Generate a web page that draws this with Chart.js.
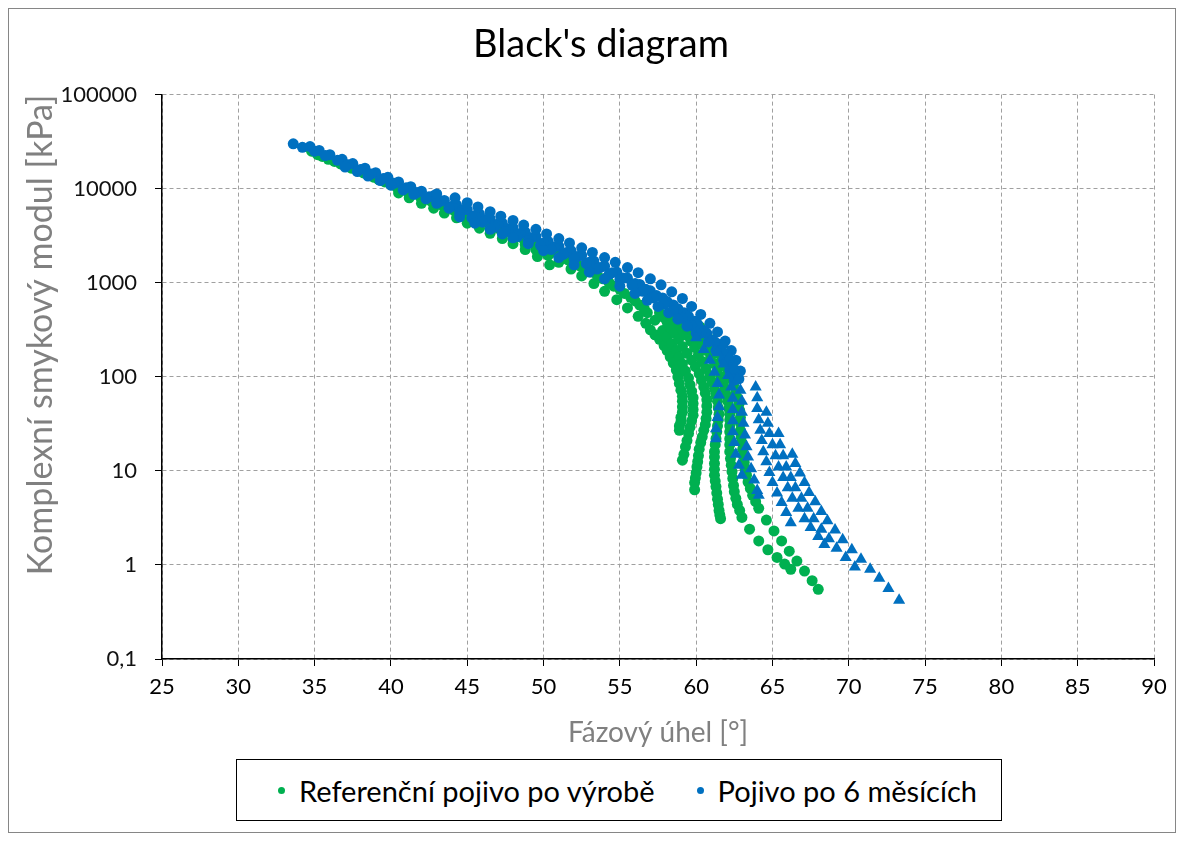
<!DOCTYPE html>
<html>
<head>
<meta charset="utf-8">
<title>Black's diagram</title>
<script src="https://cdn.jsdelivr.net/npm/chart.js@4.4.1/dist/chart.umd.min.js"></script>
<style>
  html, body { margin: 0; padding: 0; background: #fff; }
  #wrap { position: relative; width: 1184px; height: 841px; }
  #legend {
    position: absolute; left: 236px; top: 759px; width: 766px; height: 62px;
    box-sizing: border-box; border: 1px solid #000; background: #fff;
    display: flex; align-items: center; padding-left: 41px;
    font-family: Lato, sans-serif; font-size: 29px; color: #000; white-space: nowrap;
  }
  .item { display: flex; align-items: center; margin-right: 42px; }
  .dot { width: 7px; height: 7px; border-radius: 50%; margin-right: 14px; flex: none; }
</style>
</head>
<body>
<div id="wrap">
  <canvas id="myChart" width="1184" height="841"></canvas>
  <div id="legend"></div>
</div>
<script>
// axis ticks
const xTicks = [25, 30, 35, 40, 45, 50, 55, 60, 65, 70, 75, 80, 85, 90];
const yTicks = [0.1, 1, 10, 100, 1000, 10000, 100000];
const yTickLabels = ["0,1", "1", "10", "100", "1000", "10000", "100000"];

// Referenční pojivo po výrobě: [fázový úhel, |G*| kPa]
const refPoints = [
  // upper band
  [34.8, 25000], [35.5, 22000], [36.3, 19500], [37.0, 17500], [37.8, 15500], [38.5, 14000],
  [39.2, 12500], [40.0, 11000], [40.8, 9800], [41.5, 8800], [42.3, 7900], [43.0, 7100],
  [43.8, 6300], [44.5, 5700], [45.3, 5000], [46.0, 4500], [46.8, 4000], [47.5, 3600],
  [48.3, 3200], [49.0, 2850], [49.8, 2500], [50.5, 2200], [51.3, 1900], [52.0, 1650],
  [52.8, 1400], [53.5, 1200], [54.3, 1000], [55.0, 850], [55.7, 700], [56.3, 580],
  [56.8, 480], [57.3, 400],
  [35.2, 23000], [35.9, 20500], [36.7, 18300], [37.4, 16500], [38.2, 14700], [38.9, 13200],
  [39.6, 11800], [40.4, 10300], [41.1, 9200], [41.9, 8300], [42.6, 7400], [43.4, 6600],
  [44.1, 5900], [44.9, 5300], [45.6, 4700], [46.4, 4200], [47.1, 3750], [47.9, 3350],
  [48.6, 3000], [49.4, 2650], [50.1, 2350], [50.9, 2050], [51.6, 1750], [52.4, 1500],
  [53.1, 1300], [53.9, 1100], [54.6, 920], [55.3, 770], [56.0, 640], [56.6, 530],
  // second row
  [40.5, 9000], [41.2, 8000], [42.0, 7000], [42.8, 6200], [43.5, 5500], [44.3, 4900],
  [45.0, 4300], [45.8, 3800], [46.5, 3350], [47.3, 2950], [48.0, 2600], [48.8, 2250],
  [49.6, 1900], [50.4, 1550],
  // third row
  [48.0, 2900], [48.8, 2550], [49.5, 2250], [50.3, 1950], [51.0, 1650], [51.8, 1400],
  [52.5, 1180], [53.3, 980], [54.0, 810], [54.8, 660], [55.5, 540], [56.2, 440], [56.7, 370],
  // tails
  [57.0, 316], [57.3, 280], [57.6, 250], [57.9, 215], [58.1, 190], [58.3, 163], [58.5, 140],
  [58.7, 118], [58.8, 100], [58.9, 85], [59.0, 72], [59.1, 62], [59.1, 55], [59.1, 48],
  [59.1, 42], [59.0, 37], [59.0, 33], [58.9, 30], [58.9, 27],
  [57.8, 310], [58.1, 265], [58.4, 225], [58.7, 190], [58.9, 162], [59.1, 137], [59.3, 115],
  [59.5, 97], [59.6, 82], [59.7, 70], [59.8, 60], [59.8, 52], [59.8, 45], [59.8, 39],
  [59.7, 34], [59.6, 29], [59.5, 25], [59.4, 21], [59.3, 18], [59.2, 15], [59.1, 13],
  [57.6, 480], [57.85, 430], [58.1, 380], [58.35, 330], [58.6, 290], [58.85, 250], [59.1, 210],
  [59.4, 178], [59.7, 150], [59.95, 128], [60.2, 108], [60.35, 92], [60.5, 78], [60.6, 67],
  [60.7, 57], [60.7, 49], [60.7, 42], [60.65, 36], [60.6, 31], [60.5, 27], [60.4, 23],
  [60.3, 20], [60.2, 17], [60.15, 14.5], [60.1, 12.5], [60.05, 11], [60.0, 9.5], [59.95, 8.4],
  [59.9, 7.5], [59.9, 6.3],
  [58.4, 440], [58.65, 395], [58.9, 350], [59.15, 310], [59.4, 275], [59.65, 240], [59.9, 205],
  [60.15, 172], [60.4, 145], [60.65, 122], [60.9, 103], [61.05, 88], [61.2, 75], [61.3, 64],
  [61.4, 55], [61.45, 47], [61.5, 40], [61.45, 35], [61.4, 30], [61.35, 26], [61.3, 22],
  [61.25, 19], [61.2, 16], [61.2, 14], [61.2, 12], [61.2, 10.4], [61.2, 9], [61.25, 7.8],
  [61.3, 6.8], [61.35, 5.8], [61.4, 5], [61.45, 4.4], [61.5, 3.8], [61.55, 3.4], [61.6, 3.1],
  [59.2, 410], [59.45, 360], [59.7, 320], [59.95, 285], [60.2, 250], [60.45, 218], [60.7, 190],
  [60.95, 162], [61.2, 138], [61.4, 118], [61.6, 100], [61.75, 86], [61.9, 74], [62.0, 63],
  [62.1, 54], [62.15, 46], [62.2, 40], [62.2, 35], [62.2, 30], [62.2, 26], [62.2, 22],
  [62.2, 19], [62.2, 16], [62.25, 13.5], [62.3, 11.5], [62.35, 9.8], [62.4, 8.3], [62.45, 7.0],
  [62.5, 6.0], [62.6, 5.1], [62.7, 4.4], [62.85, 3.8], [63.0, 3.2], [63.5, 2.4], [64.1, 1.8],
  [64.7, 1.45], [65.3, 1.2], [65.8, 1.02], [66.2, 0.9],
  [60.0, 380], [60.25, 340], [60.5, 300], [60.75, 265], [61.0, 230], [61.25, 200], [61.5, 175],
  [61.7, 152], [61.9, 130], [62.1, 112], [62.3, 95], [62.45, 82], [62.6, 70], [62.7, 60],
  [62.8, 51], [62.85, 44], [62.9, 37], [62.9, 32], [62.9, 27], [62.95, 23], [63.0, 20],
  [63.05, 17], [63.1, 14.5], [63.15, 12.3], [63.2, 10.5], [63.3, 9], [63.4, 7.6], [63.55, 6.5],
  [63.7, 5.5], [63.9, 4.7], [64.1, 4.0], [64.6, 3.0], [65.1, 2.3], [65.6, 1.8], [66.1, 1.4],
  [66.6, 1.1], [67.1, 0.86], [67.6, 0.68], [68.0, 0.55]
];

// Pojivo po 6 měsících, kruhy
const agedPoints = [
  // top row
  [33.6, 30000], [34.7, 28000], [35.3, 25500], [36.0, 23000], [36.8, 20500], [37.5, 18500],
  [38.3, 16500], [39.0, 14800], [39.8, 13200], [40.5, 11800], [41.3, 10500], [42.0, 9400],
  [42.8, 8400], [43.5, 7500], [44.3, 6700], [45.0, 6000], [45.8, 5400], [46.5, 4800],
  [47.3, 4300], [48.0, 3850], [48.8, 3450], [49.5, 3100], [50.3, 2750], [51.0, 2450],
  [51.8, 2200], [52.5, 1950], [53.3, 1700], [54.0, 1500], [54.8, 1300], [55.5, 1120],
  [56.3, 960], [57.0, 820], [57.8, 690], [58.5, 580], [59.2, 480], [59.9, 390], [60.5, 310],
  [61.1, 245], [61.6, 190], [62.1, 150], [62.5, 120], [62.8, 95],
  [34.2, 27500], [35.0, 25000], [35.7, 22500], [36.5, 20000], [37.2, 18000], [38.0, 16000],
  [38.7, 14300], [39.5, 12800], [40.2, 11400], [41.0, 10200], [41.7, 9100], [42.5, 8200],
  [43.2, 7300], [44.0, 6500], [44.7, 5900], [45.5, 5200], [46.2, 4700], [47.0, 4200],
  [47.7, 3750], [48.5, 3350], [49.2, 3000], [50.0, 2650], [50.7, 2400], [51.5, 2100],
  [52.2, 1900], [53.0, 1650], [53.7, 1450], [54.5, 1280], [55.2, 1120], [56.0, 980],
  [56.7, 850], [57.4, 730], [58.1, 630], [58.8, 530], [59.5, 440], [60.1, 360], [60.7, 290],
  [61.3, 230], [61.8, 180], [62.3, 140], [62.7, 105],
  // upper segments
  [43.0, 8800], [44.2, 8000], [45.0, 7100], [45.7, 6400], [46.5, 5700], [47.2, 5100],
  [48.0, 4600], [48.7, 4100], [49.5, 3700], [50.2, 3300], [51.0, 2950], [51.7, 2650],
  [52.5, 2350], [53.2, 2100], [54.0, 1850], [54.7, 1650], [55.5, 1450], [56.2, 1280],
  [57.0, 1100], [57.7, 950], [58.4, 800], [59.1, 680], [59.7, 560], [60.3, 460], [60.9, 370],
  [61.4, 300], [61.9, 240], [62.3, 190], [62.6, 150], [62.9, 115],
  // lower rows
  [37.0, 17000], [37.8, 15200], [38.5, 13600], [39.3, 12200], [40.0, 10900], [40.8, 9700],
  [41.5, 8700], [42.3, 7800], [43.0, 7000], [43.8, 6200], [44.5, 5500], [45.3, 4900],
  [46.0, 4400], [46.8, 3900], [47.5, 3500], [48.3, 3100], [49.0, 2800], [49.8, 2500],
  [50.5, 2250], [51.3, 2000], [52.0, 1800], [52.8, 1600], [53.5, 1400], [54.3, 1230],
  [55.0, 1080], [55.8, 940], [56.5, 810], [57.2, 690], [57.9, 590], [58.5, 500], [59.1, 420],
  [59.7, 350], [60.3, 290], [60.8, 235], [61.3, 190], [61.8, 150], [62.2, 118], [62.5, 92],
  [44.5, 5000], [45.5, 4300], [46.5, 3700], [47.3, 3300], [48.0, 3000], [49.0, 2600],
  [50.0, 2200], [51.0, 1850], [52.0, 1550], [53.0, 1300], [54.0, 1100], [55.0, 920],
  [56.0, 770], [56.8, 650], [57.5, 560], [58.2, 480], [58.8, 410], [59.4, 345], [60.0, 290]
];

// Pojivo po 6 měsících, trojúhelníky (nízké moduly)
const agedTriPoints = [
  [60.0, 260], [60.5, 195], [60.9, 150], [61.2, 112], [61.4, 85], [61.5, 64], [61.5, 48],
  [61.4, 37], [61.3, 28], [61.3, 22],
  [60.9, 240], [61.4, 180], [61.8, 137], [62.1, 103], [62.3, 78], [62.4, 59], [62.4, 45],
  [62.4, 34], [62.4, 26], [62.5, 20], [62.6, 15], [62.8, 11.5], [63.0, 9],
  [61.8, 220], [62.2, 165], [62.5, 125], [62.7, 95], [62.9, 72], [63.0, 55], [63.0, 42],
  [63.1, 32], [63.2, 24], [63.3, 18], [63.4, 14], [63.6, 10.5], [63.8, 8], [64.0, 6.2], [64.1, 5.5],
  [63.9, 78], [64.0, 60], [64.0, 46], [64.1, 35], [64.2, 27], [64.3, 21], [64.4, 16],
  [64.6, 12.5], [64.8, 9.6], [65.0, 7.5], [65.3, 5.8], [65.6, 4.6], [65.9, 3.6], [66.2, 2.8],
  [64.6, 42], [64.7, 32], [64.8, 25], [65.0, 19], [65.2, 14.5], [65.4, 11], [65.7, 8.5],
  [66.0, 6.6], [66.3, 5.1], [66.7, 4.0], [67.1, 3.1], [67.5, 2.5], [68.0, 2.0], [68.4, 1.65],
  [65.4, 25], [65.5, 19], [65.7, 14.5], [65.9, 11], [66.2, 8.5], [66.5, 6.6], [66.9, 5.1],
  [67.3, 4.0], [67.7, 3.1], [68.2, 2.4], [68.7, 1.9], [69.2, 1.5], [69.8, 1.2], [70.4, 0.95],
  [66.3, 15], [66.5, 12], [66.8, 9.5], [67.1, 7.5], [67.4, 5.9], [67.8, 4.7], [68.2, 3.7],
  [68.6, 2.95], [69.1, 2.35], [69.6, 1.85], [70.2, 1.45], [70.8, 1.15], [71.4, 0.9],
  [72.0, 0.72], [72.6, 0.56], [73.3, 0.42]
];

const GREEN = "#00b050";
const BLUE = "#0070c0";

const toXY = (pts) => pts.map(([x, y]) => ({ x: x, y: y }));

// outer frame of the chart
const framePlugin = {
  id: "frame",
  beforeDraw(chart) {
    const ctx = chart.ctx;
    ctx.save();
    ctx.fillStyle = "#fff";
    ctx.fillRect(0, 0, chart.width, chart.height);
    ctx.strokeStyle = "#868686";
    ctx.lineWidth = 1;
    ctx.strokeRect(8.5, 8.5, chart.width - 17, chart.height - 17);
    ctx.restore();
  },
};

const config = {
  type: "scatter",
  data: {
    datasets: [
      {
        label: "Referenční pojivo po výrobě",
        data: toXY(refPoints),
        backgroundColor: GREEN,
        borderColor: GREEN,
        pointRadius: 5.5,
        pointBorderWidth: 0,
        order: 3,
      },
      {
        label: "Pojivo po 6 měsících",
        data: toXY(agedPoints),
        backgroundColor: BLUE,
        borderColor: BLUE,
        pointRadius: 5.5,
        pointBorderWidth: 0,
        order: 2,
      },
      {
        label: "tri",
        data: toXY(agedTriPoints),
        backgroundColor: BLUE,
        borderColor: BLUE,
        pointStyle: "triangle",
        pointRadius: 7,
        pointBorderWidth: 0,
        order: 1,
      },
    ],
  },
  options: {
    responsive: false,
    animation: false,
    layout: {
      padding: { left: 48, right: 30, top: 8, bottom: 82 },
    },
    plugins: {
      legend: { display: false },
      tooltip: { enabled: false },
      title: {
        display: true,
        text: "Black's diagram",
        color: "#000",
        font: { family: "Lato", size: 38, weight: "normal" },
        padding: { top: 14, bottom: 27 },
      },
    },
    scales: {
      x: {
        type: "linear",
        min: 25,
        max: 90,
        afterBuildTicks: (scale) => {
          scale.ticks = xTicks.map((v) => ({ value: v }));
        },
        afterFit: (scale) => {
          scale.height = 100;
        },
        ticks: {
          color: "#000",
          font: { family: "Lato", size: 22 },
          padding: 8,
          autoSkip: false,
          maxRotation: 0,
        },
        grid: {
          color: "#a0a0a0",
          tickColor: "#000",
          tickLength: 7,
          tickBorderDash: [],
        },
        border: { display: true, color: "#000", width: 1.5, dash: [4, 3] },
        title: {
          display: true,
          text: "Fázový úhel [°]",
          color: "#808080",
          font: { family: "Lato", size: 28 },
          padding: { top: 0, bottom: 9 },
        },
      },
      y: {
        type: "logarithmic",
        min: 0.1,
        max: 100000,
        afterBuildTicks: (scale) => {
          scale.ticks = yTicks.map((v) => ({ value: v }));
        },
        afterFit: (scale) => {
          scale.width = 114;
        },
        ticks: {
          color: "#111",
          font: { family: "Lato", size: 22 },
          padding: 18,
          callback: (value) => {
            const i = yTicks.indexOf(value);
            return i >= 0 ? yTickLabels[i] : "";
          },
        },
        grid: {
          color: "#a0a0a0",
          tickColor: "#000",
          tickLength: 7,
          tickBorderDash: [],
        },
        border: { display: true, color: "#000", width: 1.5, dash: [4, 3] },
        title: {
          display: true,
          text: "Komplexní smykový modul [kPa]",
          color: "#808080",
          font: { family: "Lato", size: 34 },
          align: "end",
          padding: { top: -27, bottom: 0 },
        },
      },
    },
  },
  plugins: [framePlugin],
};

let myChart = new Chart(document.getElementById("myChart"), config);

// legend in a framed box below the chart, in dataset order
const legendEl = document.getElementById("legend");
Chart.defaults.plugins.legend.labels
  .generateLabels(myChart)
  .filter((item) => item.datasetIndex < 2)
  .sort((a, b) => a.datasetIndex - b.datasetIndex)
  .forEach((item) => {
    const el = document.createElement("div");
    el.className = "item";
    const dot = document.createElement("span");
    dot.className = "dot";
    dot.style.background = item.fillStyle;
    const txt = document.createElement("span");
    txt.textContent = item.text;
    el.appendChild(dot);
    el.appendChild(txt);
    legendEl.appendChild(el);
  });
</script>
</body>
</html>
